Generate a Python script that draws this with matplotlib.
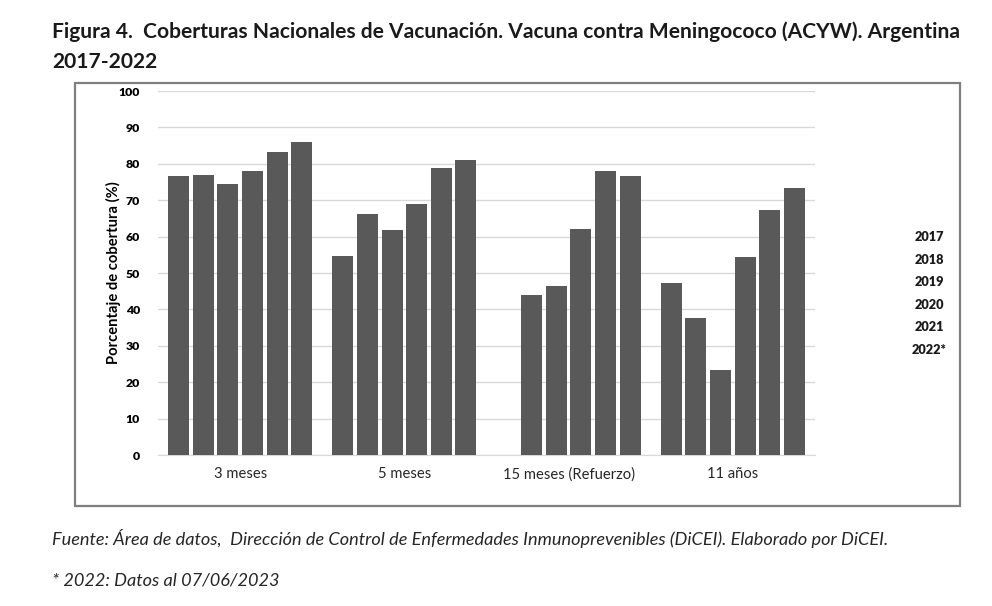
import numpy as np
import matplotlib
matplotlib.use("Agg")
import matplotlib.pyplot as plt
from matplotlib.patches import Rectangle

categories = ["3 meses", "5 meses", "15 meses (Refuerzo)", "11 años"]
years = ["2017", "2018", "2019", "2020", "2021", "2022*"]
values = {
    "2017": [76.7, 54.8, np.nan, 47.2],
    "2018": [76.8, 66.1, 44.0, 37.7],
    "2019": [74.5, 61.8, 46.5, 23.4],
    "2020": [78.1, 68.9, 62.1, 54.5],
    "2021": [83.2, 78.8, 78.1, 67.3],
    "2022*": [85.9, 81.0, 76.7, 73.3],
}

FONT = "Lato"
plt.rcParams["font.family"] = [FONT, "DejaVu Sans"]

fig = plt.figure(figsize=(9.92, 6.06), dpi=100)
W, H = 992, 606

def fx(px):
    return px / W

def fy(py):
    return 1 - py / H

# title
fig.text(fx(52), fy(32), "Figura 4.  Coberturas Nacionales de Vacunación. Vacuna contra Meningococo (ACYW). Argentina",
         fontsize=15.1, fontweight="bold", va="center", ha="left", color="#1a1a1a")
fig.text(fx(52), fy(62), "2017-2022", fontsize=15.1, fontweight="bold", va="center", ha="left", color="#1a1a1a")

# frame box
fig.patches.append(Rectangle((fx(75), fy(506)), fx(960) - fx(75), fy(83) - fy(506),
                             transform=fig.transFigure, fill=False, edgecolor="#7f7f7f", linewidth=1.6))

ax = fig.add_axes([fx(158), fy(455), fx(815) - fx(158), fy(91) - fy(455)])
x = np.arange(len(categories))
slot = 0.15
width = 0.128
for i, yr in enumerate(years):
    ax.bar(x + (i - 2.5) * slot, values[yr], width=width, color="#595959", zorder=3)

ax.set_xlim(-0.5, len(categories) - 0.5)
ax.set_ylim(0, 100)
ax.set_yticks(np.arange(0, 101, 10))
ax.set_xticks(x)
ax.set_xticklabels(categories, fontsize=10.6, color="#262626")
for lab in ax.get_yticklabels():
    lab.set_fontweight("heavy")
    lab.set_fontsize(8.8)
ax.tick_params(axis="both", length=0)
ax.tick_params(axis="x", pad=9)
ax.tick_params(axis="y", pad=13)
ax.grid(axis="y", color="#d9d9d9", linewidth=1, zorder=0)
for s in ["top", "right", "left"]:
    ax.spines[s].set_visible(False)
ax.spines["bottom"].set_color("#d9d9d9")
ax.set_ylabel("Porcentaje de cobertura (%)", fontsize=10.6, fontweight="bold", labelpad=-2)

# legend labels (text only)
for i, yr in enumerate(years):
    fig.text(fx(929), fy(237 + i * 22.6), yr, fontsize=9.2, fontweight="heavy", ha="center", va="center", color="#1a1a1a")

fig.text(fx(52), fy(539), "Fuente: Área de datos,  Dirección de Control de Enfermedades Inmunoprevenibles (DiCEI). Elaborado por DiCEI.",
         fontsize=13.1, style="italic", va="center", ha="left", color="#262626")
fig.text(fx(52), fy(580), "* 2022: Datos al 07/06/2023", fontsize=13.1, style="italic", va="center", ha="left", color="#262626")

fig.savefig("out.png", dpi=100)
